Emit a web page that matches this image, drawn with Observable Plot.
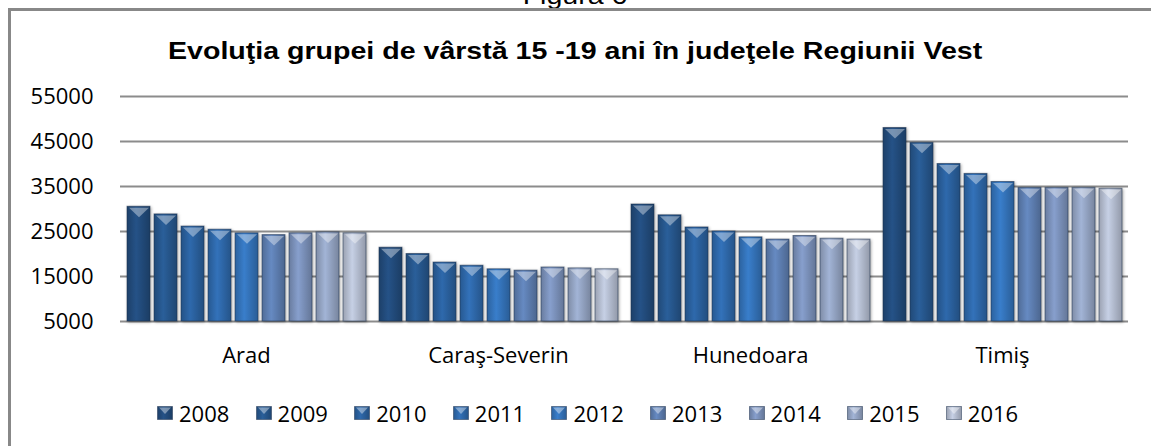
<!DOCTYPE html>
<html>
<head>
<meta charset="utf-8">
<script src="https://cdn.jsdelivr.net/npm/d3@7"></script>
<script src="https://cdn.jsdelivr.net/npm/@observablehq/plot@0.6"></script>
<style>
  html, body { margin: 0; padding: 0; background: #fff; }
  #root { position: relative; width: 1151px; height: 446px; overflow: hidden; background: #fff; }
  #frame { position: absolute; left: 8px; top: 8px; width: 1160px; height: 460px;
           border-left: 3px solid #888; border-top: 3px solid #888; box-sizing: border-box; }
  #fig { position: absolute; left: 0; width: 1151px; top: -16px; text-align: center;
         font: 24px Arial, "Liberation Sans", sans-serif; line-height: 24px; color: #000; }
  #fig span, #title span { display: inline-block; transform: scaleX(1.19); }
  #title { position: absolute; left: 0; width: 1151px; top: 39px; text-align: center;
           font: bold 24px Arial, "Liberation Sans", sans-serif; line-height: 24px; color: #000; }
  #chart { position: absolute; left: 0; top: 70px; }
  #legend { position: absolute; left: 0; top: 398px; width: 1151px; height: 30px;
            font-family: "Open Sans", sans-serif; font-size: 22px; color: #000; }
  .item { position: absolute; top: 0; display: flex; align-items: center; height: 30px; white-space: nowrap; }
  .item svg { margin-right: 6px; }
</style>
</head>
<body>
<div id="root">
  <div id="fig"><span>Figura 6</span></div>
  <div id="frame"></div>
  <div id="title"><span>Evoluţia grupei de vârstă 15 -19 ani în judeţele Regiunii Vest</span></div>
  <div id="chart"></div>
  <div id="legend"></div>
</div>
<script>
// ---- data ----
const counties = ["Arad", "Caraş-Severin", "Hunedoara", "Timiş"];
const years = ["2008", "2009", "2010", "2011", "2012", "2013", "2014", "2015", "2016"];
const arad         = [30500, 28800, 26100, 25400, 24600, 24200, 24600, 24800, 24600];
const carasSeverin = [21400, 20000, 18100, 17400, 16600, 16300, 17000, 16800, 16600];
const hunedoara    = [31000, 28600, 25900, 25000, 23700, 23200, 24000, 23400, 23200];
const timis        = [48000, 44700, 40000, 37800, 36000, 34700, 34700, 34700, 34500];
const yTicks = [5000, 15000, 25000, 35000, 45000, 55000];

// ---- styling ----
const barColors = ["#234e80", "#285a92", "#2c64a3", "#306cb0", "#3677c0", "#6183b8", "#8097c2", "#9aabcb", "#bcc5d9"];

const series = [arad, carasSeverin, hunedoara, timis];
const data = counties.flatMap((c, i) => years.map((y, j) => ({county: c, year: y, value: series[i][j]})));

const triDown = {
  draw(ctx, size) {
    const r = Math.sqrt(size / Math.PI);
    ctx.moveTo(-r, 0);
    ctx.lineTo(r, 0);
    ctx.lineTo(0, r * 0.95);
    ctx.closePath();
  }
};

const plot = Plot.plot({
  width: 1151,
  height: 301,
  marginTop: 26,
  marginBottom: 50,
  marginLeft: 120,
  marginRight: 23,
  style: {fontFamily: "'Open Sans', sans-serif", fontSize: "22px", color: "#000", background: "transparent", overflow: "visible"},
  fx: {domain: counties, padding: 0, label: null, axis: "bottom", tickSize: 0, tickPadding: 26},
  x: {domain: years, axis: null, paddingInner: 0.15, paddingOuter: 0.24},
  y: {domain: [5000, 55000], ticks: yTicks, tickSize: 0, tickPadding: 27, label: null, tickFormat: d => String(d)},
  color: {domain: years, range: years.map(y => `url(#grad${y})`)},
  marks: [
    Plot.ruleY(yTicks, {stroke: "#8c8c8c", strokeWidth: 2}),
    Plot.barY(data, {fx: "county", x: "year", y1: 5000, y2: "value", fill: "year", stroke: "#1b2f4d", strokeOpacity: 0.55, strokeWidth: 1}),
    Plot.dot(data, {fx: "county", x: "year", y: "value", symbol: triDown, r: 10, dy: 1, fill: "white", fillOpacity: 0.38, stroke: "none"})
  ]
});

// gradients
const svg = d3.select(plot.tagName.toLowerCase() === "svg" ? plot : plot.querySelector("svg"));
const defs = svg.insert("defs", ":first-child");
years.forEach((y, i) => {
  const c = d3.color(barColors[i]);
  const g = defs.append("linearGradient").attr("id", `grad${y}`).attr("x1", 0).attr("x2", 1).attr("y1", 0).attr("y2", 0);
  g.append("stop").attr("offset", "0").attr("stop-color", c.darker(0.55).formatHex());
  g.append("stop").attr("offset", "0.4").attr("stop-color", c.brighter(0.15).formatHex());
  g.append("stop").attr("offset", "1").attr("stop-color", c.darker(0.7).formatHex());
});
svg.selectAll("g[aria-label='bar']").style("filter", "drop-shadow(1px 1px 1.5px rgba(0,0,0,0.35))");

document.getElementById("chart").appendChild(plot);

// legend
const legend = d3.select("#legend");
years.forEach((y, i) => {
  const item = legend.append("div").attr("class", "item").style("left", (157 + i * 98.6) + "px");
  const s = item.append("svg").attr("width", 16).attr("height", 14);
  const c = d3.color(barColors[i]);
  const gid = `lg${y}`;
  const lg = s.append("defs").append("linearGradient").attr("id", gid).attr("x1", 0).attr("x2", 1);
  lg.append("stop").attr("offset", "0").attr("stop-color", c.darker(0.55).formatHex());
  lg.append("stop").attr("offset", "0.4").attr("stop-color", c.brighter(0.15).formatHex());
  lg.append("stop").attr("offset", "1").attr("stop-color", c.darker(0.7).formatHex());
  s.append("rect").attr("x", 0.5).attr("y", 0.5).attr("width", 15).attr("height", 13).attr("fill", `url(#${gid})`).attr("stroke", "#1b2f4d").attr("stroke-opacity", 0.5);
  s.append("path").attr("d", "M2,1.5L14,1.5L8,8Z").attr("fill", "white").attr("fill-opacity", 0.4);
  item.append("span").text(y);
});
</script>
</body>
</html>
